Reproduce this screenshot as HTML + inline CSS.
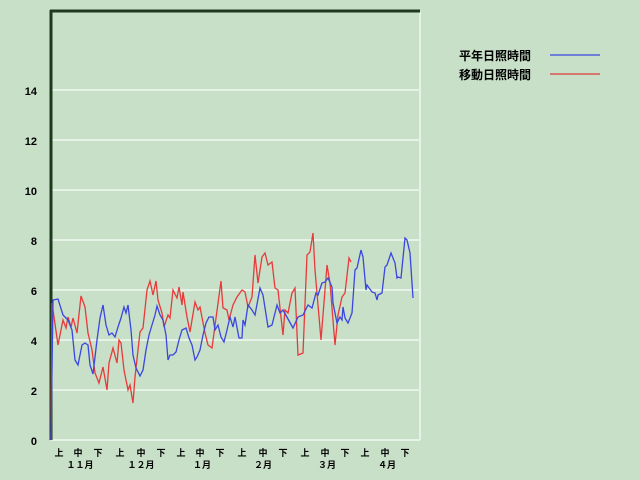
<!DOCTYPE html>
<html><head><meta charset="utf-8"><style>
body{margin:0;background:#c8dfc8;}
svg{display:block;font-family:"Liberation Sans","Noto Sans CJK JP",sans-serif;font-weight:bold;}
</style></head><body>
<svg width="640" height="480" viewBox="0 0 640 480">
<rect width="640" height="480" fill="#c8dfc8"/>
<g stroke="#e6f2e6" stroke-width="2">
<line x1="51" y1="90" x2="420" y2="90"/><line x1="51" y1="140" x2="420" y2="140"/>
<line x1="51" y1="190" x2="420" y2="190"/><line x1="51" y1="240" x2="420" y2="240"/>
<line x1="51" y1="290" x2="420" y2="290"/><line x1="51" y1="340" x2="420" y2="340"/>
<line x1="51" y1="390" x2="420" y2="390"/><line x1="51" y1="440" x2="420" y2="440"/>
<line x1="420" y1="11" x2="420" y2="440"/>
</g>
<line x1="50" y1="11" x2="420" y2="11" stroke="#1e3a1e" stroke-width="3"/>
<line x1="51" y1="10" x2="51" y2="440" stroke="#1e3a1e" stroke-width="3"/>
<g font-size="11" fill="#000" text-anchor="end">
<text x="37" y="95">14</text><text x="37" y="145">12</text><text x="37" y="195">10</text>
<text x="37" y="245">8</text><text x="37" y="295">6</text><text x="37" y="345">4</text>
<text x="37" y="395">2</text><text x="37" y="445">0</text>
</g>
<g font-size="9" fill="#000" text-anchor="middle">
<text x="59" y="456">上</text><text x="78" y="456">中</text><text x="98" y="456">下</text>
<text x="120" y="456">上</text><text x="141" y="456">中</text><text x="161" y="456">下</text>
<text x="181" y="456">上</text><text x="200" y="456">中</text><text x="220" y="456">下</text>
<text x="242" y="456">上</text><text x="263" y="456">中</text><text x="283" y="456">下</text>
<text x="305" y="456">上</text><text x="325" y="456">中</text><text x="345" y="456">下</text>
<text x="365" y="456">上</text><text x="385" y="456">中</text><text x="405" y="456">下</text>
<text x="80" y="468">１１月</text><text x="141" y="468">１２月</text><text x="202" y="468">１月</text>
<text x="263" y="468">２月</text><text x="327" y="468">３月</text><text x="387" y="468">４月</text>
</g>
<g font-size="12" fill="#000">
<text x="459" y="60">平年日照時間</text><text x="459" y="79">移動日照時間</text>
</g>
<line x1="550" y1="55" x2="600" y2="55" stroke="#3a46e0" stroke-width="1.3"/>
<line x1="550" y1="74" x2="600" y2="74" stroke="#e03a3a" stroke-width="1.3"/>
<polyline fill="none" stroke="#e83a3a" stroke-width="1.3" points="51,440 52,303 58,345 63,320 66,328 68,317 71,327 73,318 77,333 81,296 85,307 88,333 92,350 95,373 99,383 103,367 107,390 109,363 113,348 117,363 119,340 121,343 124,370 128,390 130,385 133,403 135,377 140,332 143,328 147,290 150,281 153,295 156,281 158,300 162,313 164,327 168,315 170,318 173,290 177,298 179,287 182,305 183,292 187,317 190,332 195,302 198,310 200,307 205,333 208,345 212,348 221,281 223,308 227,310 229,320 233,305 237,297 242,290 245,292 248,307 252,297 255,255 258,283 262,257 265,253 268,265 272,262 275,288 278,290 283,335 285,310 288,313 292,293 295,288 298,355 303,353 307,255 310,252 313,233 315,270 321,340 327,265 330,283 335,345 338,315 342,297 345,293 349,258 351,262"/>
<polyline fill="none" stroke="#3a46e0" stroke-width="1.3" points="51,440 53,300 58,299 63,315 68,320 72,330 75,360 78,365 82,345 85,343 88,345 90,365 93,374 97,340 100,318 103,305 106,325 109,335 112,333 115,337 118,327 121,318 124,307 126,313 128,305 131,330 133,355 136,368 140,376 143,370 146,350 149,335 152,325 155,315 157,306 160,315 163,320 166,335 168,360 170,355 173,355 176,352 179,340 182,330 186,328 189,338 192,345 195,360 197,357 200,350 203,335 206,323 209,317 213,317 215,330 218,325 221,337 224,342 227,330 230,317 233,327 235,317 239,338 242,338 243,320 245,325 248,305 252,310 255,315 260,288 263,295 268,327 272,325 277,305 280,313 283,310 293,328 298,317 303,315 308,305 312,308 316,293 318,295 322,283 325,282 328,278 332,287 333,303 337,323 340,317 342,320 343,307 345,318 348,323 352,313 355,270 357,268 361,250 363,257 366,290 367,285 372,292 375,293 377,300 378,295 382,293 385,267 387,265 391,253 395,263 397,278 398,277 401,278 405,238 407,240 410,253 413,298"/>
</svg>
</body></html>
